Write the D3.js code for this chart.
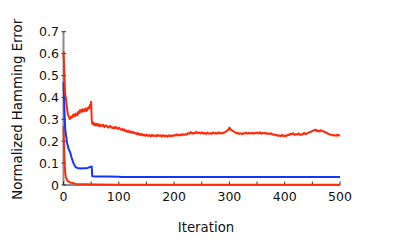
<!DOCTYPE html>
<html>
<head>
<meta charset="utf-8">
<script src="https://cdn.jsdelivr.net/npm/d3@7"></script>
<style>
  body { margin: 0; background: #fff; }
  svg text { font-family: "DejaVu Sans", sans-serif; fill: #111; }
</style>
</head>
<body>
<div id="chart"></div>
<script>
// Data
const xTicks = [0, 50, 100, 150, 200, 250, 300, 350, 400, 450, 500];
const xTickLabels = [0, 100, 200, 300, 400, 500];
const yTicks = [0, 0.1, 0.2, 0.3, 0.4, 0.5, 0.6, 0.7];

// upper red series: [iteration, error]
const redUpper = [
  [0,0.61],[1,0.55],[2,0.47],[3,0.42],[4,0.40],[5,0.38],[6,0.36],[7,0.34],[8,0.32],[10,0.31],
  [11,0.302],[12,0.308],[13,0.304],[14,0.312],[15,0.308],[16,0.316],[17,0.312],[18,0.322],
  [19,0.316],[20,0.32],[21,0.315],[22,0.326],[23,0.32],[24,0.324],[25,0.318],[26,0.332],[27,0.326],
  [28,0.336],[29,0.33],[30,0.342],[31,0.336],[32,0.34],[33,0.334],[34,0.346],[35,0.338],[36,0.342],
  [37,0.336],[38,0.345],[39,0.34],[40,0.35],[41,0.342],[42,0.338],[43,0.346],[44,0.352],[45,0.348],
  [46,0.356],[47,0.352],[48,0.366],[49,0.36],[50,0.38],[51,0.30],[52,0.28],[53,0.285],[54,0.276],
  [55,0.282],[56,0.274],[57,0.28],[58,0.272],[60,0.279],[61,0.272],[62,0.278],[64,0.27],[65,0.276],
  [66,0.268],[68,0.274],[70,0.27],[72,0.275],[74,0.264],[76,0.27],[78,0.272],[80,0.264],[82,0.262],
  [84,0.27],[86,0.266],[88,0.26],[90,0.264],[92,0.258],[94,0.266],[96,0.26],[98,0.256],[100,0.262],
  [102,0.256],[104,0.252],[106,0.256],[108,0.25],[110,0.254],[112,0.246],[114,0.248],[116,0.242],
  [118,0.248],[120,0.24],[122,0.244],[124,0.238],[126,0.243],[128,0.236],[130,0.238],[132,0.232],
  [134,0.238],[136,0.23],[138,0.234],[140,0.228],[142,0.233],[144,0.226],[146,0.23],[148,0.224],
  [150,0.23],[153,0.224],[155,0.228],[158,0.222],[160,0.229],[163,0.223],[165,0.227],[168,0.222],
  [170,0.229],[173,0.224],[175,0.227],[178,0.221],[180,0.228],[183,0.222],[185,0.226],[188,0.221],
  [190,0.227],[193,0.222],[195,0.227],[198,0.223],[200,0.229],[203,0.225],[205,0.231],[208,0.226],
  [210,0.23],[213,0.227],[215,0.233],[218,0.228],[220,0.232],[223,0.23],[225,0.237],[228,0.234],
  [230,0.242],[233,0.234],[235,0.238],[238,0.236],[240,0.243],[243,0.236],[245,0.24],[248,0.235],
  [250,0.241],[253,0.234],[255,0.238],[258,0.233],[260,0.239],[263,0.234],[265,0.237],[268,0.233],
  [270,0.24],[273,0.235],[275,0.238],[278,0.234],[280,0.241],[283,0.235],[285,0.238],[288,0.236],
  [290,0.24],[293,0.242],[295,0.247],[298,0.252],[300,0.262],[302,0.254],[304,0.25],[306,0.247],
  [308,0.244],[310,0.241],[313,0.236],[315,0.239],[318,0.233],[320,0.236],[323,0.232],[325,0.237],
  [328,0.235],[330,0.24],[333,0.234],[335,0.238],[338,0.235],[340,0.239],[343,0.234],[345,0.237],
  [348,0.236],[350,0.24],[353,0.235],[355,0.241],[358,0.234],[360,0.238],[363,0.236],[365,0.239],
  [368,0.233],[370,0.236],[373,0.233],[375,0.236],[378,0.23],[380,0.232],[383,0.227],[385,0.229],
  [388,0.224],[390,0.227],[393,0.223],[395,0.229],[398,0.222],[400,0.226],[403,0.224],[405,0.229],
  [408,0.228],[410,0.234],[413,0.232],[415,0.237],[418,0.229],[420,0.232],[423,0.23],[425,0.236],
  [428,0.228],[430,0.232],[433,0.231],[435,0.238],[438,0.232],[440,0.235],[443,0.238],[445,0.242],
  [448,0.243],[450,0.247],[453,0.25],[456,0.253],[458,0.246],[460,0.249],[463,0.244],[465,0.25],
  [468,0.246],[470,0.245],[473,0.24],[475,0.241],[478,0.234],[480,0.233],[483,0.229],[485,0.23],
  [488,0.226],[490,0.228],[493,0.225],[495,0.23],[498,0.226],[500,0.228]
];

const blue = [
  [0,0.47],[1,0.40],[2,0.32],[3,0.26],[4,0.235],[5,0.22],[6,0.20],[8,0.175],[10,0.16],[12,0.15],
  [14,0.13],[16,0.115],[18,0.10],[20,0.09],[22,0.082],[25,0.078],[28,0.076],[32,0.075],[36,0.076],
  [40,0.077],[44,0.078],[48,0.082],[50,0.084],[51,0.084],[52,0.04],[60,0.039],[80,0.039],
  [100,0.038],[105,0.037],[200,0.037],[300,0.037],[400,0.037],[500,0.037]
];

const redLower = [
  [0,0.27],[1,0.17],[2,0.10],[3,0.06],[4,0.04],[6,0.025],[8,0.018],[10,0.014],[14,0.01],
  [18,0.008],[22,0.005],[30,0.004],[40,0.003],[60,0.002],[100,0.001],[500,0.001]
];

const RED = '#ff2a0a';
const BLUE = '#1235ff';

const W = 404, H = 242;
const svg = d3.select('#chart').append('svg')
    .attr('width', W)
    .attr('height', H);

const x = d3.scaleLinear().domain([0, 500]).range([63.5, 340]);
const y = d3.scaleLinear().domain([0, 0.7]).range([185, 31.7]);

// axis lines
svg.append('line')
    .attr('x1', x(0)).attr('x2', x(0))
    .attr('y1', y(0)).attr('y2', y(0.7))
    .attr('stroke', '#8a8a8a').attr('stroke-width', 2);
svg.append('line')
    .attr('x1', x(0)).attr('x2', x(500))
    .attr('y1', y(0)).attr('y2', y(0))
    .attr('stroke', '#8a8a8a').attr('stroke-width', 2);

// y ticks and labels
svg.selectAll('.ytick')
    .data(yTicks)
    .enter().append('line')
    .attr('class', 'ytick')
    .attr('x1', x(0) - 2).attr('x2', x(0) + 2.5)
    .attr('y1', d => y(d)).attr('y2', d => y(d))
    .attr('stroke', '#333').attr('stroke-width', 1);

svg.selectAll('.ylabel')
    .data(yTicks)
    .enter().append('text')
    .attr('class', 'ylabel')
    .attr('x', 59)
    .attr('y', d => y(d))
    .attr('dy', '0.36em')
    .attr('text-anchor', 'end')
    .attr('font-size', '12.5px')
    .text(d => d === 0 ? '0' : d3.format('.1f')(d));

// x ticks (inward) and labels
svg.selectAll('.xtick')
    .data(xTicks)
    .enter().append('line')
    .attr('class', 'xtick')
    .attr('x1', d => x(d)).attr('x2', d => x(d))
    .attr('y1', y(0)).attr('y2', y(0) - 3.5)
    .attr('stroke', '#333').attr('stroke-width', 1);

svg.selectAll('.xlabel')
    .data(xTickLabels)
    .enter().append('text')
    .attr('class', 'xlabel')
    .attr('x', d => x(d))
    .attr('y', 201)
    .attr('text-anchor', 'middle')
    .attr('font-size', '12.5px')
    .text(d => d);

// lines
const line = d3.line()
    .x(d => x(d[0]))
    .y(d => y(d[1]));

[[redLower, RED], [blue, BLUE], [redUpper, RED]].forEach(([data, c]) => {
    svg.append('path')
        .datum(data)
        .attr('d', line)
        .attr('fill', 'none')
        .attr('stroke', c)
        .attr('stroke-width', 2)
        .attr('stroke-linejoin', 'round');
});

// axis titles
svg.append('text')
    .attr('transform', `translate(22, ${y(0.35) + 1}) rotate(-90)`)
    .attr('text-anchor', 'middle')
    .attr('font-size', '13.3px')
    .text('Normalized Hamming Error');

svg.append('text')
    .attr('x', 206)
    .attr('y', 232)
    .attr('text-anchor', 'middle')
    .attr('font-size', '13.3px')
    .text('Iteration');
</script>
</body>
</html>
